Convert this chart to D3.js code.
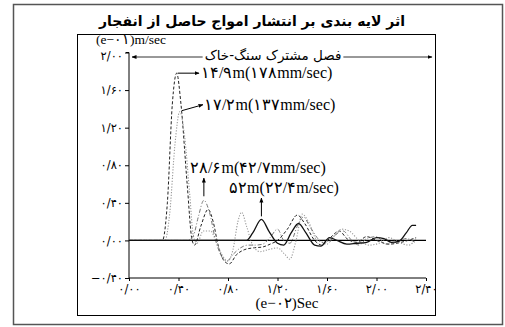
<!DOCTYPE html>
<html><head><meta charset="utf-8">
<script src="https://cdn.jsdelivr.net/npm/d3@7"></script>
<style>body{margin:0;background:#fff}svg{display:block}</style>
</head><body>
<svg id="c" width="505" height="327"></svg>
<script>
const title = "اثر لایه بندی بر انتشار امواج حاصل از انفجار";
const interfaceLabel = "فصل مشترک سنگ-خاک";
const yUnit = "(e−۰۱)m/sec";
const xUnit = "(e−۰۲)Sec";
const xTicks = [0, 0.4, 0.8, 1.2, 1.6, 2.0, 2.4];
const xTickLabels = ["۰/۰۰","۰/۴۰","۰/۸۰","۱/۲۰","۱/۶۰","۲/۰۰","۲/۴۰"];
const yTicks = [-0.4, 0, 0.4, 0.8, 1.2, 1.6, 2.0];
const yTickLabels = ["−۰/۴۰","۰/۰۰","۰/۴۰","۰/۸۰","۱/۲۰","۱/۶۰","۲/۰۰"];
const seriesNames = ["14.9m","17.2m","28.6m","52m"];
const seriesLabels = ["۱۴/۹m(۱۷۸mm/sec)","۱۷/۲m(۱۳۷mm/sec)","۲۸/۶m(۴۲/۷mm/sec)","۵۲m(۲۲/۴m/sec)"];
const peakT = [0.385, 0.41, 0.605, 1.07];
const peakV = [1.78, 1.37, 0.427, 0.224];
const s14 = [[0,0],[0.27,0],[0.31,0.4],[0.35,1.45],[0.385,1.78],[0.42,1.45],[0.47,0.6],[0.51,0.0],[0.53,-0.05],[0.58,0.15],[0.64,0.33],[0.68,0.2],[0.72,-0.05],[0.77,-0.22],[0.81,-0.25],[0.87,-0.15],[0.93,-0.1],[1.0,-0.08],[1.08,-0.07],[1.14,-0.04],[1.2,0.0],[1.28,0.12],[1.36,0.27],[1.42,0.18],[1.5,0.0],[1.56,-0.05],[1.62,0.02],[1.7,0.1],[1.76,0.02],[1.84,-0.02],[1.92,0.04],[2.0,0.0],[2.1,-0.04],[2.2,-0.02],[2.32,0.03]];
const s17 = [[0,0],[0.29,0],[0.33,0.3],[0.37,1.0],[0.41,1.37],[0.45,1.1],[0.49,0.5],[0.52,0.05],[0.55,-0.03],[0.6,0.1],[0.66,0.1],[0.7,0.0],[0.75,-0.15],[0.8,-0.22],[0.84,-0.1],[0.88,0.2],[0.91,0.3],[0.95,0.15],[1.0,-0.05],[1.06,-0.12],[1.12,-0.1],[1.2,-0.08],[1.26,-0.15],[1.3,-0.2],[1.35,0.0],[1.4,0.28],[1.45,0.2],[1.52,0.0],[1.58,-0.02],[1.66,0.05],[1.72,0.12],[1.78,0.1],[1.86,0.0],[1.94,-0.05],[2.02,-0.03],[2.1,0.03],[2.18,-0.02],[2.26,-0.05],[2.32,0.02]];
const s28 = [[0,0],[0.47,0],[0.52,0.05],[0.56,0.25],[0.605,0.427],[0.65,0.3],[0.7,0.0],[0.74,-0.15],[0.79,-0.22],[0.84,-0.15],[0.9,-0.08],[0.96,-0.05],[1.02,-0.05],[1.08,-0.04],[1.14,0.03],[1.2,0.12],[1.25,0.0],[1.3,-0.03],[1.36,0.15],[1.41,0.25],[1.46,0.15],[1.54,0.0],[1.6,-0.04],[1.66,0.05],[1.73,0.1],[1.8,0.0],[1.86,-0.05],[1.92,0.02],[2.0,0.04],[2.08,-0.04],[2.16,-0.02],[2.24,0.02],[2.32,-0.03]];
const s52 = [[0,0],[0.95,0],[1.0,0.08],[1.07,0.224],[1.13,0.1],[1.2,-0.03],[1.25,-0.05],[1.31,0.08],[1.37,0.18],[1.43,0.08],[1.5,-0.05],[1.55,-0.06],[1.62,0.03],[1.68,0.0],[1.76,-0.04],[1.84,-0.03],[1.92,-0.02],[2.0,0.03],[2.06,0.02],[2.12,-0.02],[2.18,-0.01],[2.24,0.08],[2.29,0.16],[2.32,0.16]];
const seriesData = [s14, s17, s28, s52];

const svg = d3.select("#c");
const serif = "'Liberation Serif','Times New Roman','DejaVu Serif',serif";
const fa = "'DejaVu Sans','Noto Sans',sans-serif";

// frames
svg.append("rect").attr("x",13.5).attr("y",4.5).attr("width",489).attr("height",320).attr("fill","none").attr("stroke","#555").attr("stroke-width",1.5);
svg.append("rect").attr("x",77.5).attr("y",34.5).attr("width",358).attr("height",281).attr("fill","none").attr("stroke","#000").attr("stroke-width",1);

svg.append("text").attr("x",252).attr("y",26).attr("text-anchor","middle").attr("direction","rtl")
  .attr("font-family",fa).attr("font-size",14).attr("font-weight","bold").text(title);

const x = d3.scaleLinear().domain([0,2.4]).range([129,426]);
const y = d3.scaleLinear().domain([-0.4,2.0]).range([278,52.5]);

const defs = svg.append("defs");
defs.append("marker").attr("id","ah").attr("viewBox","0 0 10 10").attr("refX",9).attr("refY",5)
  .attr("markerWidth",5).attr("markerHeight",5).attr("orient","auto-start-reverse")
  .append("path").attr("d","M0,1L10,5L0,9Z").attr("fill","#000");

// axes
const ya = d3.axisLeft(y).tickValues(yTicks).tickSize(4).tickFormat((d,i)=>yTickLabels[i]);
const gy = svg.append("g").attr("transform",`translate(${x(0)},0)`).call(ya);
gy.select(".domain").attr("d",`M-3,${y(2.0)}H0V${y(-0.4)}`);
gy.selectAll("text").attr("font-family",fa).attr("font-size",11.5).attr("letter-spacing",0.8).attr("x",-6);
gy.selectAll(".tick").filter(d=>d===2.0).select("text").attr("dy","0.6em");
const xa = d3.axisBottom(x).tickValues(xTicks).tickSize(3).tickFormat((d,i)=>xTickLabels[i]);
const gx = svg.append("g").attr("transform",`translate(0,${y(-0.4)})`).call(xa);
gx.select(".domain").attr("d",`M${x(0)},0H${x(2.4)}`);
gx.selectAll("text").attr("font-family",fa).attr("font-size",11.5).attr("letter-spacing",0.8).attr("dy","0.75em");
svg.selectAll(".tick line").attr("stroke","#000");

// zero line
svg.append("line").attr("x1",x(0)).attr("x2",x(2.4)).attr("y1",y(0)).attr("y2",y(0)).attr("stroke","#000").attr("stroke-width",1.2);

svg.append("text").attr("x",96).attr("y",44).attr("font-family",serif).attr("font-size",13.5).text(yUnit);
svg.append("text").attr("x",287).attr("y",308).attr("text-anchor","middle").attr("font-family",serif).attr("font-size",15).text(xUnit);

// series
const styles = [
  {c:"#222", d:"3,2", w:1},
  {c:"#999", d:"1.2,1.6", w:1.1},
  {c:"#777", d:"4,2,1,2", w:1},
  {c:"#111", d:null, w:1.3}
];
const line = d3.line().x(d=>x(d[0])).y(d=>y(d[1])).curve(d3.curveMonotoneX);
seriesData.forEach((s,i)=>{
  svg.append("path").datum(s).attr("d",line).attr("fill","none")
    .attr("stroke",styles[i].c).attr("stroke-width",styles[i].w)
    .attr("stroke-dasharray",styles[i].d);
});

// interface arrow
svg.append("line").attr("x1",x(0)+3).attr("x2",432).attr("y1",57).attr("y2",57)
  .attr("stroke","#333").attr("marker-start","url(#ah)").attr("marker-end","url(#ah)");
const bgRect = svg.append("rect").attr("fill","#fff");
const itx = svg.append("text").attr("x",273).attr("y",60).attr("text-anchor","middle").attr("direction","rtl")
  .attr("font-family",fa).attr("font-size",13.5).text(interfaceLabel);
const bb = itx.node().getBBox();
bgRect.attr("x",bb.x-2).attr("y",bb.y+3).attr("width",bb.width+4).attr("height",bb.height-6);

// annotations
const ann = [
  {x1:x(peakT[0])+1, y1:y(peakV[0]), x2:199, y2:y(peakV[0]), tx:201, ty:y(peakV[0])+5},
  {x1:x(peakT[1])+2, y1:y(peakV[1])-1, x2:203, y2:y(peakV[1])-7, tx:204, ty:y(peakV[1])-2},
  {x1:x(peakT[2]), y1:y(peakV[2])-4, x2:x(peakT[2]), y2:178, tx:190, ty:173},
  {x1:x(peakT[3]), y1:y(peakV[3])-3, x2:x(peakT[3]), y2:198, tx:229, ty:193}
];
ann.forEach((a,i)=>{
  svg.append("line").attr("x1",a.x1).attr("y1",a.y1).attr("x2",a.x2).attr("y2",a.y2)
    .attr("stroke","#000").attr("stroke-width",1).attr("marker-end","url(#ah)");
  svg.append("text").attr("x",a.tx).attr("y",a.ty).attr("font-family",serif).attr("font-size",16).text(seriesLabels[i]);
});
</script>
</body></html>
